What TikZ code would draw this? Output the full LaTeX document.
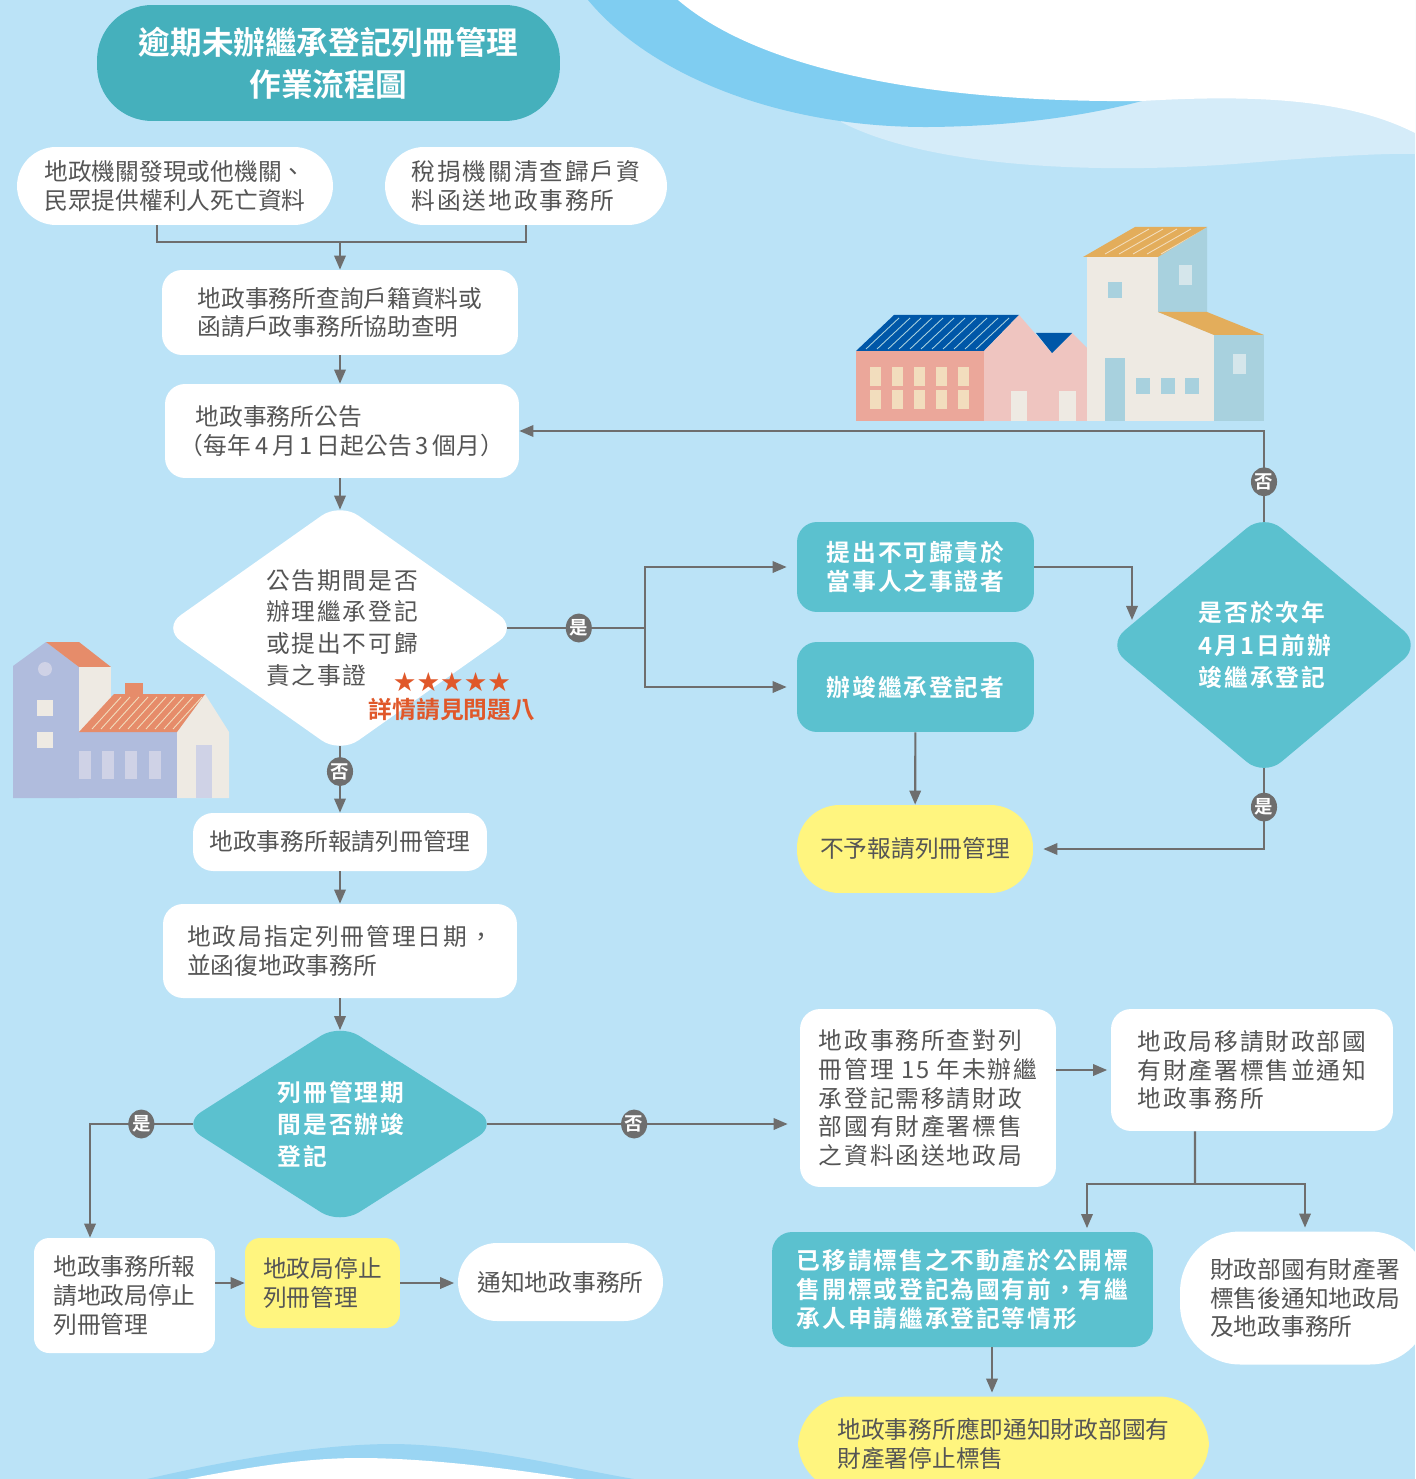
\documentclass[tikz,border=0pt]{standalone}
\usepackage{fontspec}
\setmainfont{Noto Sans CJK TC}[BoldFont={Noto Sans CJK TC Bold}]
\newfontfamily\widefont{Noto Sans CJK TC}[LetterSpace=8]
\newfontfamily\wideboldfont{Noto Sans CJK TC Bold}[LetterSpace=8]
\newfontfamily\starfont{DejaVu Sans}
\usetikzlibrary{arrows.meta,shapes.geometric}

\definecolor{bgblue}{HTML}{BBE3F7}
\definecolor{wavemid}{HTML}{7FCDF1}
\definecolor{wavelight}{HTML}{D5ECF9}
\definecolor{wavelow}{HTML}{9AD5F3}
\definecolor{titleteal}{HTML}{45B0BC}
\definecolor{boxteal}{HTML}{5BC1CF}
\definecolor{noteyellow}{HTML}{FFF57F}
\definecolor{linegray}{HTML}{6E6E6E}
\definecolor{txtgray}{HTML}{555555}
\definecolor{hintred}{HTML}{E0582A}
% house colours
\definecolor{roofblue}{HTML}{0057A8}
\definecolor{brickred}{HTML}{EBA79A}
\definecolor{pinkwall}{HTML}{EFC5C0}
\definecolor{creamwall}{HTML}{EEEAE3}
\definecolor{sideblue}{HTML}{A8D1DE}
\definecolor{roofgold}{HTML}{E3AD5B}
\definecolor{winlight}{HTML}{D5E6EB}
\definecolor{wincream}{HTML}{F2DDBD}
\definecolor{lavender}{HTML}{B0BCDD}
\definecolor{roofcoral}{HTML}{E68C6A}
\definecolor{winlav}{HTML}{CFD2E6}

\begin{document}
\begin{tikzpicture}[x=0.02cm, y=-0.02cm,
  txt/.style={text=txtgray, align=left, inner sep=0pt, font=\fontsize{13.5}{16.4}\selectfont},
  wide/.style={font=\widefont\fontsize{13.5}{16.4}\selectfont},
  box/.style={txt, rectangle, fill=white, rounded corners=0.4cm},
  pill/.style={box, rounded corners=0.78cm},
  note/.style={box, fill=noteyellow},
  tealbox/.style={rectangle, fill=boxteal, rounded corners=0.4cm, inner sep=0pt, text=white, align=left, font=\wideboldfont\fontsize{13.5}{16.4}\selectfont},
  decision/.style={diamond, rounded corners=0.45cm, inner sep=0pt},
  dtext/.style={txt, font=\widefont\fontsize{13.5}{18.2}\selectfont},
  dteal/.style={text=white, align=left, inner sep=0pt, font=\wideboldfont\fontsize{13.5}{18.3}\selectfont},
  yn/.style={ellipse, fill=linegray, text=white, inner sep=0pt, minimum width=0.52cm, minimum height=0.58cm, font=\bfseries\fontsize{10.5}{10.5}\selectfont},
  link/.style={draw=linegray, line width=1.2pt},
  arr/.style={link, -{Triangle[length=8pt,width=6.5pt]}},
  roofline/.style={draw=#1, line width=0.5pt},
]
\useasboundingbox (0,0) rectangle (1415,1479);
\fill[bgblue] (0,0) rectangle (1415,1479);

% waves, top right and bottom
\fill[wavelight] (841,122) .. controls (930,168) and (1100,175) .. (1247,163)
  .. controls (1330,156) and (1390,153) .. (1415,154) -- (1415,0) -- (841,0) -- cycle;
\fill[wavemid] (588,0) .. controls (650,75) and (780,128) .. (930,127)
  .. controls (1030,126) and (1100,112) .. (1142,101) -- (1142,0) -- cycle;
\fill[white] (678,0) .. controls (760,70) and (930,103) .. (1142,101)
  .. controls (1260,94) and (1350,100) .. (1415,133) -- (1415,0) -- cycle;
\fill[wavelow] (147,1479) .. controls (250,1455) and (350,1440) .. (420,1445)
  .. controls (500,1450) and (580,1470) .. (634,1479) -- cycle;
\fill[white] (187,1479) .. controls (260,1465) and (310,1458) .. (360,1458)
  .. controls (430,1458) and (520,1470) .. (576,1479) -- cycle;

% houses on the right
\fill[roofblue] (856,351) -- (894,315) -- (1019,315) -- (984,351) -- cycle;
\begin{scope}
  \clip (856,351) -- (894,315) -- (1019,315) -- (984,351) -- cycle;
  \foreach \s in {0,...,10} \draw[roofline=sideblue] (866+11*\s,349) -- ++(33,-31);
\end{scope}
\fill[brickred] (856,351) rectangle (984,421);
\foreach \wx in {870,892,914,936,958} {
  \fill[wincream] (\wx,367) rectangle ++(11,19);
  \fill[wincream] (\wx,390) rectangle ++(11,19);
}
\fill[pinkwall] (984,421) -- (984,351) -- (1019,315) -- (1052,353) -- (1072,333) -- (1087,348) -- (1087,421) -- cycle;
\fill[roofblue] (1036,333) -- (1072,333) -- (1052,353) -- cycle;
\fill[creamwall] (1011,391) rectangle (1027,421);
\fill[creamwall] (1059,391) rectangle (1076,421);
\fill[creamwall] (1087,257) -- (1158,257) -- (1158,312) -- (1214,335) -- (1214,421) -- (1087,421) -- cycle;
\fill[sideblue] (1158,257) -- (1207,227) -- (1207,312) -- (1158,312) -- cycle;
\fill[roofgold] (1083,257) -- (1135,227) -- (1207,227) -- (1158,257) -- cycle;
\begin{scope}
  \clip (1083,257) -- (1135,227) -- (1207,227) -- (1158,257) -- cycle;
  \foreach \s in {0,...,4} \draw[roofline=wincream] (1105+14*\s,254) -- ++(44,-25);
\end{scope}
\fill[roofgold] (1158,312) -- (1207,312) -- (1264,335) -- (1214,335) -- cycle;
\fill[sideblue] (1214,335) rectangle (1264,421);
\fill[winlight] (1179,265) rectangle (1192,285);
\fill[winlight] (1233,354) rectangle (1246,374);
\fill[sideblue] (1108,282) rectangle (1122,298);
\fill[sideblue] (1105,358) rectangle (1125,421);
\foreach \wx in {1136,1161,1185} \fill[sideblue] (\wx,378) rectangle ++(14,16);

% house on the left
\fill[lavender] (13,666) -- (46,642) -- (79,667) -- (79,798) -- (13,798) -- cycle;
\fill[roofcoral] (46,642) -- (79,642) -- (111,667) -- (79,667) -- cycle;
\fill[creamwall] (79,667) rectangle (111,732);
\fill[roofcoral] (125,683) rectangle (143,695);
\fill[lavender] (79,732) rectangle (177,798);
\fill[creamwall] (177,732) -- (205,694) -- (229,732) -- (229,798) -- (177,798) -- cycle;
\fill[roofcoral] (79,732) -- (114,694) -- (205,694) -- (177,732) -- cycle;
\begin{scope}
  \clip (79,732) -- (114,694) -- (205,694) -- (177,732) -- cycle;
  \foreach \s in {0,...,9} \draw[roofline=wincream] (92+9*\s,729) -- ++(29,-32);
\end{scope}
\fill[winlav] (45,669) circle (7);
\fill[creamwall] (37,700) rectangle (53,716);
\fill[creamwall] (37,732) rectangle (53,748);
\foreach \wx in {79,102,125,149} \fill[winlav] (\wx,751) rectangle ++(12,28);
\fill[winlav] (196,745) rectangle (212,798);

% title
\node[rectangle, fill=titleteal, rounded corners=1.1cm, minimum width=9.26cm, minimum height=2.32cm,
  text=white, align=center, font=\bfseries\fontsize{18}{23.8}\selectfont] (title) at (328.5,63)
  {逾期未辦繼承登記列冊管理\\作業流程圖};

% upper flow
\node[pill, minimum width=6.32cm, minimum height=1.56cm] (src1) at (175,186) {地政機關發現或他機關、\\民眾提供權利人死亡資料};
\node[pill, wide, minimum width=5.64cm, minimum height=1.56cm] (src2) at (526,186) {稅捐機關清查歸戶資\\料函送地政事務所};
\node[box, minimum width=7.12cm, minimum height=1.7cm] (query) at (340,312.5) {地政事務所查詢戶籍資料或\\函請戶政事務所協助查明};
\node[box, minimum width=7.08cm, minimum height=1.88cm] (notice) at (342,431) {\hspace*{9pt}地政事務所公告\\（每年\,4\,月\,1\,日起公告\,3\,個月）};
\node[decision, fill=white, minimum width=7.11cm, minimum height=5.02cm] (ask) at (340,628) {};
\coordinate (askN) at ([yshift=-0.15cm]ask.north);
\coordinate (askE) at ([xshift=-0.22cm]ask.east);
\coordinate (askS) at ([yshift=0.15cm]ask.south);
\node[dtext] (askt) at (342,628) {公告期間是否\\辦理繼承登記\\或提出不可歸\\責之事證};
\node[text=hintred, inner sep=0pt, font=\starfont\fontsize{15}{15}\selectfont] (stars) at (452,682) {★★★★★};
\node[text=hintred, inner sep=0pt, font=\bfseries\fontsize{13.5}{13.5}\selectfont] (hint) at (452,710) {詳情請見問題八};

% right branch
\node[tealbox, minimum width=4.74cm, minimum height=1.8cm] (proof) at (915.5,567) {提出不可歸責於\\當事人之事證者};
\node[tealbox, minimum width=4.74cm, minimum height=1.8cm] (done) at (915.5,687) {辦竣繼承登記者};
\node[decision, fill=boxteal, minimum width=6.28cm, minimum height=5.26cm] (nextyr) at (1264,645) {};
\coordinate (nextyrN) at ([yshift=-0.17cm]nextyr.north);
\coordinate (nextyrS) at ([yshift=0.17cm]nextyr.south);
\node[dteal] (nextyrt) at (1265,645) {是否於次年\\4月1日前辦\\竣繼承登記};
\node[note, rounded corners=0.85cm, minimum width=4.72cm, minimum height=1.76cm] (nolist) at (915,849) {不予報請列冊管理};

% middle flow
\node[box, minimum width=5.88cm, minimum height=1.16cm] (report) at (340,842) {地政事務所報請列冊管理};
\node[box, minimum width=7.08cm, minimum height=1.88cm] (date) at (340,951) {{\widefont 地政局指定列冊管理日期，}\\並函復地政事務所};
\node[decision, fill=boxteal, minimum width=6.32cm, minimum height=4.02cm] (within) at (340,1124) {};
\coordinate (withinN) at ([yshift=-0.14cm]within.north);
\coordinate (withinW) at ([xshift=0.22cm]within.west);
\coordinate (withinE) at ([xshift=-0.22cm]within.east);
\node[dteal] (withint) at (341,1124) {列冊管理期\\間是否辦竣\\登記};

% lower left
\node[box, rounded corners=0.3cm, minimum width=3.62cm, minimum height=2.3cm] (stopreq) at (124.5,1295.5) {地政事務所報\\請地政局停止\\列冊管理};
\node[note, rounded corners=0.3cm, minimum width=3.1cm, minimum height=1.8cm] (stop) at (322.5,1283) {地政局停止\\列冊管理};
\node[pill, minimum width=4.1cm, minimum height=1.56cm] (inform) at (560.5,1282) {通知地政事務所};

% lower right
\node[box, wide, minimum width=5.12cm, minimum height=3.56cm] (check) at (928,1098) {地政事務所查對列\\冊管理 15 年未辦繼\\承登記需移請財政\\部國有財產署標售\\之資料函送地政局};
\node[box, wide, minimum width=5.64cm, minimum height=2.44cm] (transfer) at (1252,1070) {地政局移請財政部國\\有財產署標售並通知\\地政事務所};
\node[tealbox, minimum width=7.62cm, minimum height=2.3cm] (claim) at (962.5,1289.5) {已移請標售之不動產於公開標\\售開標或登記為國有前，有繼\\承人申請繼承登記等情形};
\node[box, rounded corners=1.2cm, minimum width=5cm, minimum height=2.66cm] (sold) at (1305,1298) {財政部國有財產署\\標售後通知地政局\\及地政事務所};
\node[note, rounded corners=1cm, minimum width=8.22cm, minimum height=1.9cm] (halt) at (1003.5,1444) {地政事務所應即通知財政部國有\\財產署停止標售};

% connectors
\coordinate (srcjoin) at (340,242);
\draw[link] ([xshift=-0.36cm]src1.south) |- (srcjoin) -| (src2.south);
\draw[arr] (srcjoin) -- (query);
\draw[arr] (query) -- (query |- notice.north);
\draw[arr] (notice.south -| askN) -- (askN);
\coordinate (askfork) at (645,628);
\draw[link] (askE) -- (askfork) node[yn, pos=0.52] (yes1) {是};
\draw[arr, shorten >=0.2cm] (askfork) |- (proof.west);
\draw[arr, shorten >=0.2cm] (askfork) |- (done.west);
\coordinate (proofdrop) at (1132,620);
\draw[arr] (proof.east) -| (proofdrop);
\draw[arr] (nextyrN) |- (notice.east) node[yn, pos=0.22] (no1) {否};
\draw[arr, shorten >=0.2cm] (nextyrS) |- (nolist.east) node[yn, pos=0.24] (yes2) {是};
\draw[arr] (done) -- (nolist);
\draw[arr] (askS) -- (report) node[yn, pos=0.38] (no2) {否};
\draw[arr] (report) -- (date);
\draw[arr] (date) -- (withinN);
\coordinate (stopin) at ([xshift=-0.69cm]stopreq.north);
\draw[arr] (withinW) -| (stopin) node[yn, pos=0.25] (yes3) {是};
\draw[arr, shorten >=0.24cm] (withinE) -- (withinE -| check.west) node[yn, pos=0.47] (no3) {否};
\draw[arr] (stopreq.east |- stop.west) -- (stop.west);
\draw[arr, shorten >=2pt] (stop.east) -- (stop.east -| inform.west);
\draw[arr, shorten >=2pt] (check.east |- transfer.west) -- (transfer.west);
\coordinate (saleout) at ([xshift=-1.14cm]transfer.south);
\coordinate (salefork) at (1195,1184);
\coordinate (claimin) at ([xshift=2.49cm]claim.north);
\draw[link] (saleout) -- (salefork);
\draw[arr, shorten >=2pt] (salefork) -| (claimin);
\draw[arr, shorten >=2pt] (salefork) -| (sold.north);
\coordinate (claimout) at ([xshift=0.59cm]claim.south);
\draw[arr, shorten >=2pt] (claimout) -- (claimout |- halt.north);
\end{tikzpicture}
\end{document}
